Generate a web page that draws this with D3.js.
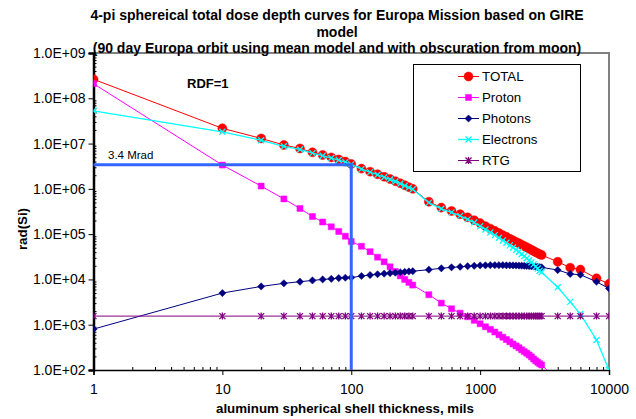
<!DOCTYPE html>
<html>
<head>
<meta charset="utf-8">
<script src="https://cdn.jsdelivr.net/npm/d3@7"></script>
<style>
  html, body { margin: 0; padding: 0; background: #fff; }
  svg { display: block; font-family: "Liberation Sans", Arial, sans-serif; }
</style>
</head>
<body>
<svg id="chart" width="636" height="419"></svg>
<script>
// Shield thickness (mils of aluminum)
const thickness = [1, 10, 20, 30, 40, 50, 60, 70, 80, 90, 100,
  120, 140, 160, 180, 200, 220, 240, 260, 280, 300,
  400, 500, 600, 700, 800, 900, 1000,
  1100, 1200, 1300, 1400, 1500, 1600, 1700, 1800, 1900, 2000,
  2100, 2200, 2300, 2400, 2500, 2600, 2700, 2800, 2900, 3000,
  4000, 5000, 6000, 8000, 10000];

// Dose, rad(Si)
const total = [2.63e8, 2.17e7, 1.30e7, 9.3e6, 7.8e6, 6.4e6, 5.6e6, 4.95e6, 4.45e6, 4.0e6, 3.55e6,
  2.8e6, 2.4e6, 2.1e6, 1.85e6, 1.65e6, 1.48e6, 1.33e6, 1.2e6, 1.09e6, 1.0e6,
  5.2e5, 3.85e5, 3.25e5, 2.75e5, 2.35e5, 2.03e5, 1.75e5,
  1.50e5, 1.32e5, 1.18e5, 1.06e5, 9.5e4, 8.7e4, 7.9e4, 7.3e4, 6.7e4, 6.3e4,
  5.8e4, 5.45e4, 5.1e4, 4.8e4, 4.5e4, 4.25e4, 4.0e4, 3.8e4, 3.6e4, 3.46e4,
  2.45e4, 1.82e4, 1.65e4, 1.06e4, 8.0e3];

const proton = [2.1e8, 3.35e6, 1.15e6, 6.0e5, 3.7e5, 2.45e5, 1.85e5, 1.45e5, 1.15e5, 9.0e4, 6.9e4,
  5.4e4, 4.1e4, 3.1e4, 2.45e4, 1.9e4, 1.5e4, 1.2e4, 1.0e4, 8.6e3, 7.5e3,
  4.6e3, 3.0e3, 2.25e3, 1.8e3, 1.5e3, 1.25e3, 1.05e3,
  900, 790, 690, 600, 530, 470, 420, 375, 340, 310,
  280, 255, 235, 215, 195, 175, 160, 148, 138, 129,
  60, 30, 16, 5, 2];

const photons = [800, 5.0e3, 7.0e3, 8.2e3, 8.9e3, 9.5e3, 1.0e4, 1.03e4, 1.07e4, 1.09e4, 1.1e4,
  1.19e4, 1.25e4, 1.3e4, 1.34e4, 1.38e4, 1.41e4, 1.44e4, 1.47e4, 1.5e4, 1.52e4,
  1.64e4, 1.76e4, 1.85e4, 1.9e4, 1.96e4, 2.0e4, 2.04e4,
  20500, 20600, 20600, 20600, 20600, 20500, 20500, 20400, 20300, 20200,
  20100, 20000, 19800, 19700, 19500, 19300, 19100, 18900, 18700, 18500,
  1.61e4, 1.32e4, 1.27e4, 8.9e3, 6.3e3];

const electrons = [5.3e7, 1.82e7, 1.18e7, 8.69e6, 7.42e6, 6.14e6, 5.4e6, 4.79e6, 4.32e6, 3.9e6, 3.47e6,
  2.73e6, 2.34e6, 2.05e6, 1.81e6, 1.61e6, 1.45e6, 1.30e6, 1.17e6, 1.065e6, 9.8e5,
  4.97e5, 3.63e5, 3.03e5, 2.53e5, 2.12e5, 1.80e5, 1.50e5,
  127000, 109000, 95000, 83000, 72300, 64500, 56500, 50700, 44800, 40900,
  36100, 32700, 29400, 26500, 23800, 21500, 19200, 17400, 15600, 14400,
  6.7e3, 3.2e3, 1.72e3, 460, 100];

const rtg = [1550, 1550, 1550, 1550, 1550, 1550, 1550, 1550, 1550, 1550, 1550,
  1550, 1550, 1550, 1550, 1550, 1550, 1550, 1550, 1550, 1550,
  1550, 1550, 1550, 1550, 1550, 1550, 1550,
  1550, 1550, 1550, 1550, 1550, 1550, 1550, 1550, 1550, 1550,
  1550, 1550, 1550, 1550, 1550, 1550, 1550, 1550, 1550, 1550,
  1550, 1550, 1550, 1550, 1550];

const seriesNames = ["TOTAL", "Proton", "Photons", "Electrons", "RTG"];
const xTickValues = [1, 10, 100, 1000, 10000];
const xTickLabels = ["1", "10", "100", "1000", "10000"];
const yTickValues = [1e2, 1e3, 1e4, 1e5, 1e6, 1e7, 1e8, 1e9];
const yTickLabels = ["1.0E+02", "1.0E+03", "1.0E+04", "1.0E+05", "1.0E+06", "1.0E+07", "1.0E+08", "1.0E+09"];

// 3.4 Mrad design point at 100 mils
const refDose = 3.4e6;
const refThickness = 100;
const refLabel = "3.4 Mrad";

const titleLines = [
  "4-pi sphereical total dose depth curves for Europa Mission based on GIRE",
  "model",
  "(90 day Europa orbit using mean model and with obscuration from moon)"
];

const svg = d3.select("#chart");
const plot = { left: 93.5, right: 609, top: 53, bottom: 370 };

const x = d3.scaleLog().domain([1, 10000]).range([plot.left, plot.right]);
const y = d3.scaleLog().domain([100, 1e9]).range([plot.bottom, plot.top]);

svg.append("defs").append("clipPath").attr("id", "plotclip")
  .append("rect")
  .attr("x", plot.left).attr("y", plot.top)
  .attr("width", plot.right - plot.left).attr("height", plot.bottom - plot.top);

// Plot frame: grey top and right edges
svg.append("path")
  .attr("d", `M${plot.left},${plot.top}H${plot.right}V${plot.bottom}`)
  .attr("fill", "none").attr("stroke", "#808080").attr("stroke-width", 2);

// Minor ticks
const minorY = [];
for (let e = 2; e < 9; e++) for (let m = 2; m <= 9; m++) minorY.push(m * Math.pow(10, e));
const minorX = [];
for (let e = 0; e < 4; e++) for (let m = 2; m <= 9; m++) minorX.push(m * Math.pow(10, e));

const yMinor = svg.append("g").attr("transform", `translate(${plot.left},0)`)
  .call(d3.axisRight(y).tickValues(minorY).tickSize(3).tickFormat(""));
yMinor.select(".domain").remove();
yMinor.selectAll("line").attr("stroke", "#000");

const xMinor = svg.append("g").attr("transform", `translate(0,${plot.bottom})`)
  .call(d3.axisTop(x).tickValues(minorX).tickSize(3).tickFormat(""));
xMinor.select(".domain").remove();
xMinor.selectAll("line").attr("stroke", "#000");

// Major axes
const yAxis = svg.append("g").attr("transform", `translate(${plot.left},0)`)
  .call(d3.axisLeft(y).tickValues(yTickValues).tickSizeOuter(0).tickSize(5)
    .tickFormat((d, i) => yTickLabels[i]).tickPadding(3));
yAxis.select(".domain").attr("stroke", "#000").attr("stroke-width", 2.5);
yAxis.selectAll("line").attr("stroke", "#000");
yAxis.selectAll("text").attr("font-size", "14px").attr("fill", "#000")
  .attr("font-family", "Liberation Sans, Arial, sans-serif");

const xAxis = svg.append("g").attr("transform", `translate(0,${plot.bottom})`)
  .call(d3.axisBottom(x).tickValues(xTickValues).tickSizeOuter(0).tickSize(5)
    .tickFormat((d, i) => xTickLabels[i]).tickPadding(9));
xAxis.select(".domain").attr("stroke", "#000").attr("stroke-width", 1.5);
xAxis.selectAll("line").attr("stroke", "#000");
xAxis.selectAll("text").attr("font-size", "14px").attr("fill", "#000")
  .attr("font-family", "Liberation Sans, Arial, sans-serif");

// Series styles
const marker = {
  circle: d3.symbol().type(d3.symbolCircle).size(64)(),
  square: "M-3,-3H3V3H-3Z",
  diamond: "M0,-3.6L3.6,0L0,3.6L-3.6,0Z",
  cross: "M-3,-3L3,3M-3,3L3,-3",
  star: "M-3,-3L3,3M-3,3L3,-3M0,-3.5V3.5"
};
const series = [
  { name: seriesNames[0], values: total, color: "#ff0000", shape: "circle", filled: true, width: 1 },
  { name: seriesNames[1], values: proton, color: "#ff00ff", shape: "square", filled: true, width: 1 },
  { name: seriesNames[2], values: photons, color: "#000080", shape: "diamond", filled: true, width: 1 },
  { name: seriesNames[3], values: electrons, color: "#00ffff", shape: "cross", filled: false, width: 1.3 },
  { name: seriesNames[4], values: rtg, color: "#800080", shape: "star", filled: false, width: 1 }
];

const line = d3.line().x(d => x(d[0])).y(d => y(d[1]));
const layer = svg.append("g").attr("clip-path", "url(#plotclip)");

series.forEach(s => {
  const pts = thickness.map((t, i) => [t, s.values[i]]);
  const g = layer.append("g");
  g.append("path").attr("d", line(pts)).attr("fill", "none")
    .attr("stroke", s.color).attr("stroke-width", s.width);
  g.selectAll("path.m").data(pts.filter(p => p[1] >= 100)).enter().append("path")
    .attr("class", "m")
    .attr("transform", p => `translate(${x(p[0])},${y(p[1])})`)
    .attr("d", marker[s.shape])
    .attr("fill", s.filled ? s.color : "none")
    .attr("stroke", s.color).attr("stroke-width", s.filled ? 0.5 : 1.3);
});

// Design point guide lines
svg.append("path")
  .attr("d", `M${x(1)},${y(refDose)}H${x(refThickness)}V${y(100)}`)
  .attr("fill", "none").attr("stroke", "#3366ff").attr("stroke-width", 3);
svg.append("text").attr("x", 108).attr("y", y(refDose) - 6)
  .attr("font-size", "11.5px").text(refLabel);

svg.append("text").attr("x", 187).attr("y", 88)
  .attr("font-size", "13px").attr("font-weight", "bold").text("RDF=1");

// Title
svg.append("g").selectAll("text").data(titleLines).enter().append("text")
  .attr("x", 337).attr("y", (d, i) => 20 + i * 16.5)
  .attr("text-anchor", "middle").attr("font-size", "14px").attr("font-weight", "bold")
  .text(d => d);

// Axis titles
svg.append("text").attr("x", 345).attr("y", 413).attr("text-anchor", "middle")
  .attr("font-size", "13.3px").attr("font-weight", "bold")
  .text("aluminum spherical shell thickness, mils");
svg.append("text").attr("transform", "translate(27,229) rotate(-90)")
  .attr("text-anchor", "middle").attr("font-size", "13.3px").attr("font-weight", "bold")
  .text("rad(Si)");

// Legend
const legend = svg.append("g");
legend.append("rect").attr("x", 413.5).attr("y", 64.5).attr("width", 167).attr("height", 107)
  .attr("fill", "#fff").attr("stroke", "#000").attr("stroke-width", 1);
series.forEach((s, i) => {
  const ly = 76.5 + i * 21;
  legend.append("line").attr("x1", 458).attr("x2", 479).attr("y1", ly).attr("y2", ly)
    .attr("stroke", s.color).attr("stroke-width", s.width);
  legend.append("path").attr("transform", `translate(468.5,${ly})`).attr("d", marker[s.shape])
    .attr("fill", s.filled ? s.color : "none").attr("stroke", s.color)
    .attr("stroke-width", s.filled ? 0.5 : 1.3);
  legend.append("text").attr("x", 482).attr("y", ly).attr("dy", "0.35em")
    .attr("font-size", "13.3px").text(s.name);
});
</script>
</body>
</html>
